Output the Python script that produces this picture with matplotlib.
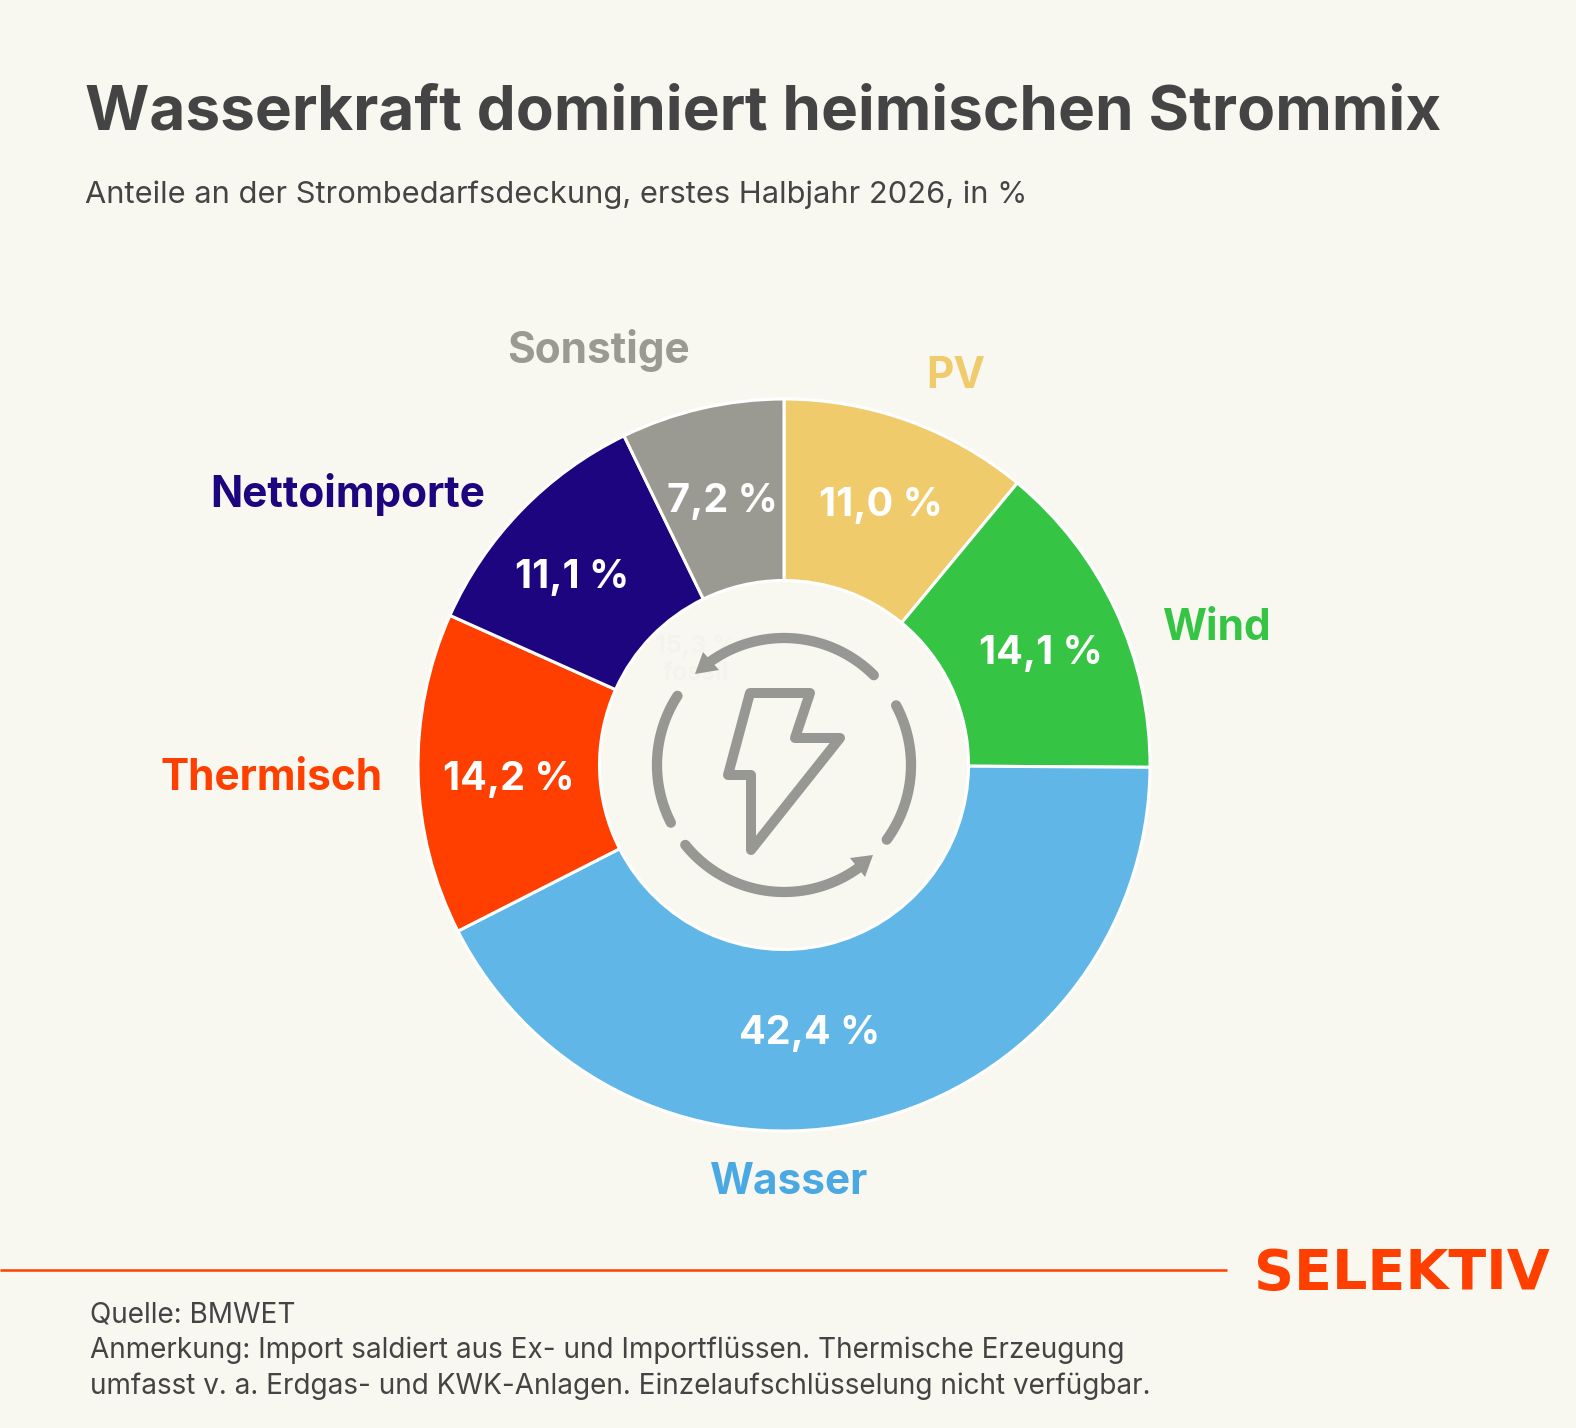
import numpy as np
import matplotlib
matplotlib.use('Agg')
import matplotlib.pyplot as plt
from matplotlib.patches import Polygon

W, H = 1576, 1428

# data, clockwise from 12 o'clock
categories = ['PV', 'Wind', 'Wasser', 'Thermisch', 'Nettoimporte', 'Sonstige']
shares = [11.0, 14.1, 42.4, 14.2, 11.1, 7.2]
value_labels = ['11,0 %', '14,1 %', '42,4 %', '14,2 %', '11,1 %', '7,2 %']
colors = ['#f0cb6c', '#36c445', '#60b6e6', '#ff3f00', '#1e0580', '#9a9a92']
name_colors = ['#f0cb6c', '#36c445', '#4aa9e2', '#ff3f00', '#1e0580', '#9a9a92']

title = 'Wasserkraft dominiert heimischen Strommix'
subtitle = 'Anteile an der Strombedarfsdeckung, erstes Halbjahr 2026, in %'
notes = ['Quelle: BMWET',
         'Anmerkung: Import saldiert aus Ex- und Importflüssen. Thermische Erzeugung',
         'umfasst v. a. Erdgas- und KWK-Anlagen. Einzelaufschlüsselung nicht verfügbar.']

# label positions in picture pixels
name_pos = [(956, 377), (1217, 629), (789, 1183), (272, 779), (348, 495), (598, 351)]
value_pos = [(881, 505), (1041, 653), (810, 1034), (509, 780), (572, 578), (722, 502)]

BG = '#f9f8f0'
DARK = '#444444'
ICON = '#979794'
FONT = 'Inter'
CX, CY = 784, 765
R_OUT, R_IN = 366, 184.5

plt.rcParams['font.family'] = [FONT, 'DejaVu Sans']

fig = plt.figure(figsize=(W / 100, H / 100), dpi=100, facecolor=BG)
ax = fig.add_axes([0, 0, 1, 1])


def py(y):
    # picture y (downwards) to axes y
    return H - y


ax.pie(shares, colors=colors, startangle=90, counterclock=False,
       center=(CX, py(CY)), radius=R_OUT,
       wedgeprops=dict(width=R_OUT - R_IN, edgecolor='#ffffff', linewidth=2.2))
ax.set_xlim(0, W)
ax.set_ylim(0, H)
ax.set_aspect('equal')
ax.axis('off')

ax.text(85, py(129), title, fontsize=44.7, fontweight='bold', color=DARK, ha='left', va='baseline')
ax.text(85, py(203), subtitle, fontsize=22.2, color=DARK, ha='left', va='baseline')

for name, (x, y), c in zip(categories, name_pos, name_colors):
    ax.text(x, py(y), name, fontsize=30.5, fontweight='bold', color=c, ha='center', va='center')
for val, (x, y) in zip(value_labels, value_pos):
    ax.text(x, py(y), val, fontsize=28.5, fontweight='bold', color='white', ha='center', va='center')

# leftover faint label behind the icon
ax.text(696, py(660), '15,3 %\nfossil', fontsize=18, fontweight='bold', color='#f4f3ee',
        ha='center', va='center', linespacing=1.25, zorder=1.5)

# icon: circular arrows
for a0, a1 in [(45, 128), (28, -36), (219, 308), (147, 207)]:
    t = np.radians(np.linspace(a0, a1, 80))
    ax.plot(CX + 127 * np.cos(t), py(CY) + 127 * np.sin(t),
            color=ICON, lw=7.4, solid_capstyle='round', zorder=2)

bolt = [(750, 693), (810, 693), (795, 738), (840, 738), (751, 850), (751, 775), (728, 775)]
ax.add_patch(Polygon([(x, py(y)) for x, y in bolt], closed=True, fill=False,
                     edgecolor=ICON, lw=7.2, joinstyle='round', zorder=2))
for head in [[(695, 674), (703, 652), (719, 670)], [(873, 855), (850, 858), (865, 877)]]:
    ax.add_patch(Polygon([(x, py(y)) for x, y in head], closed=True, color=ICON, lw=0, zorder=2))

# footer
ax.plot([0, 1227], [py(1270), py(1270)], color='#ff3f00', lw=1.8, solid_capstyle='butt')
ax.text(1402, py(1289), 'SELEKTIV', fontsize=40, fontweight='bold', color='#ff3f00',
        family='DejaVu Sans', ha='center', va='baseline')
for line, y in zip(notes, [1322, 1358, 1394]):
    ax.text(90.5, py(y), line, fontsize=20.1, color=DARK, ha='left', va='baseline')

fig.savefig('out.png', dpi=100, facecolor=BG)
